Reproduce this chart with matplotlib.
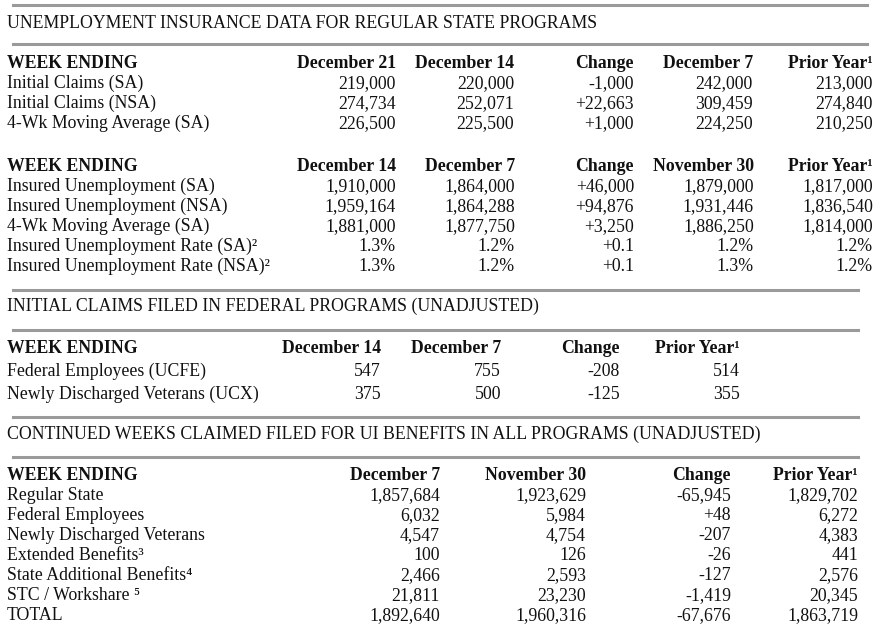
import matplotlib
matplotlib.use("Agg")
import matplotlib.pyplot as plt
from matplotlib.lines import Line2D

plt.rcParams['font.family'] = ['Liberation Serif', 'DejaVu Serif']

W, H = 882, 627

# ---- data ----
title1 = "UNEMPLOYMENT INSURANCE DATA FOR REGULAR STATE PROGRAMS"
cols_a = ["December 21", "December 14", "Change", "December 7", "Prior Year¹"]
rows_a = ["Initial Claims (SA)", "Initial Claims (NSA)", "4-Wk Moving Average (SA)"]
vals_a = [["219,000", "220,000", "-1,000", "242,000", "213,000"],
          ["274,734", "252,071", "+22,663", "309,459", "274,840"],
          ["226,500", "225,500", "+1,000", "224,250", "210,250"]]

cols_b = ["December 14", "December 7", "Change", "November 30", "Prior Year¹"]
rows_b = ["Insured Unemployment (SA)", "Insured Unemployment (NSA)",
          "4-Wk Moving Average (SA)", "Insured Unemployment Rate (SA)²",
          "Insured Unemployment Rate (NSA)²"]
vals_b = [["1,910,000", "1,864,000", "+46,000", "1,879,000", "1,817,000"],
          ["1,959,164", "1,864,288", "+94,876", "1,931,446", "1,836,540"],
          ["1,881,000", "1,877,750", "+3,250", "1,886,250", "1,814,000"],
          ["1.3%", "1.2%", "+0.1", "1.2%", "1.2%"],
          ["1.3%", "1.2%", "+0.1", "1.3%", "1.2%"]]

title2 = "INITIAL CLAIMS FILED IN FEDERAL PROGRAMS (UNADJUSTED)"
cols_c = ["December 14", "December 7", "Change", "Prior Year¹"]
rows_c = ["Federal Employees (UCFE)", "Newly Discharged Veterans (UCX)"]
vals_c = [["547", "755", "-208", "514"],
          ["375", "500", "-125", "355"]]

title3 = "CONTINUED WEEKS CLAIMED FILED FOR UI BENEFITS IN ALL PROGRAMS (UNADJUSTED)"
cols_d = ["December 7", "November 30", "Change", "Prior Year¹"]
rows_d = ["Regular State", "Federal Employees", "Newly Discharged Veterans",
          "Extended Benefits³", "State Additional Benefits⁴", "STC / Workshare ⁵", "TOTAL"]
vals_d = [["1,857,684", "1,923,629", "-65,945", "1,829,702"],
          ["6,032", "5,984", "+48", "6,272"],
          ["4,547", "4,754", "-207", "4,383"],
          ["100", "126", "-26", "441"],
          ["2,466", "2,593", "-127", "2,576"],
          ["21,811", "23,230", "-1,419", "20,345"],
          ["1,892,640", "1,960,316", "-67,676", "1,863,719"]]

fig = plt.figure(figsize=(W / 100, H / 100), dpi=100)
FS = 12.8
GRAY = "#9a9a9a"


def txt(x, y, s, ha="left", bold=False):
    fig.text(x / W, 1 - y / H, s, ha=ha, va="baseline", fontsize=FS,
             fontweight="bold" if bold else "normal", color="#111111")


def hline(y, x0, x1):
    fig.add_artist(Line2D([x0 / W, x1 / W], [1 - y / H, 1 - y / H],
                          color=GRAY, lw=2.2, transform=fig.transFigure))


def table(cols, rows, vals, xs, y0, step=20):
    txt(7, y0, "WEEK ENDING", bold=True)
    for c, x in zip(cols, xs):
        txt(x, y0, c, ha="right", bold=True)
    for i, r in enumerate(rows):
        y = y0 + step * (i + 1)
        txt(7, y, r)
        for v, x in zip(vals[i], xs):
            txt(x, y, v, ha="right")


hline(5, 13, 867)
txt(7, 28, title1)
hline(44, 13, 867)
table(cols_a, rows_a, vals_a, [396, 514, 634, 753, 873], 68)
table(cols_b, rows_b, vals_b, [396, 515, 634, 754, 873], 171)

hline(290, 13, 858)
txt(7, 311, title2)
hline(330, 13, 858)
table(cols_c, rows_c, vals_c, [381, 501, 620, 740], 353, step=23)

hline(417, 13, 858)
txt(7, 439, title3)
hline(457, 13, 858)
table(cols_d, rows_d, vals_d, [440, 586, 731, 858], 480)

fig.savefig("out.png", dpi=100)
